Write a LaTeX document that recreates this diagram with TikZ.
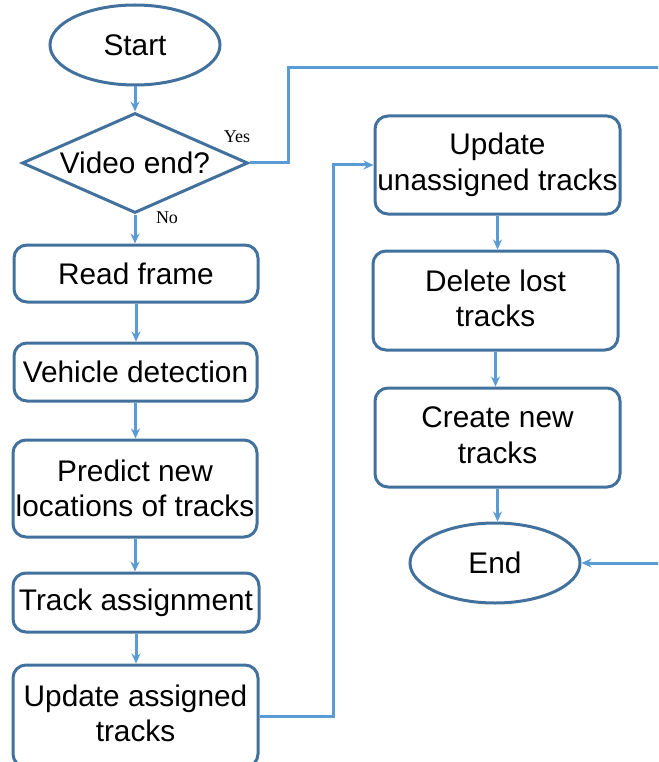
\documentclass[tikz,border=0pt]{standalone}
\usepackage{fontspec}
\setmainfont{Liberation Sans}
\newfontfamily\timesf{Liberation Serif}
\usetikzlibrary{shapes.geometric,arrows.meta}
\definecolor{boxc}{HTML}{41719C}
\definecolor{arrc}{HTML}{5B9BD5}
\begin{document}
\begin{tikzpicture}[x=1pt,y=-1pt,
  box/.style={draw=boxc,line width=3pt,rounded corners=13pt,align=center,inner sep=0pt,fill=white,font=\fontsize{29.8}{35.5}\selectfont},
  term/.style={draw=boxc,line width=3pt,ellipse,inner sep=0pt,minimum width=170pt,minimum height=80pt,fill=white,font=\fontsize{29.8}{35.5}\selectfont},
  dec/.style={draw=boxc,line width=3pt,diamond,aspect=2.26,inner sep=0pt,minimum width=226pt,minimum height=100pt,fill=white,font=\fontsize{29.8}{35.5}\selectfont},
  lbl/.style={font=\timesf\fontsize{18}{20}\selectfont,inner sep=0pt},
  wire/.style={draw=arrc,line width=3pt},
  conn/.style={wire,-{Stealth[length=10pt,width=9pt]}}]
\useasboundingbox (0,0) rectangle (658,762);
\clip (0,0) rectangle (658,762);

\node[term] (start) at (135,45) {Start};
\node[dec] (vend) at (135,163) {Video end?};
\node[box,minimum width=244pt,minimum height=57pt] (read) at (136,273.5) {Read frame};
\node[box,minimum width=243pt,minimum height=58pt] (veh) at (135.5,372) {Vehicle detection};
\node[box,minimum width=244pt,minimum height=97pt] (pred) at (135,488.5) {Predict new\\locations of tracks};
\node[box,minimum width=246pt,minimum height=59pt] (assign) at (136,602.5) {Track assignment};
\node[box,minimum width=245pt,minimum height=102pt] (upa) at (135.5,716) {Update assigned\\tracks\rule[-6pt]{0pt}{1pt}};

\node[box,minimum width=245pt,minimum height=98pt] (upu) at (497.5,165) {Update\\unassigned tracks};
\node[box,minimum width=245pt,minimum height=99pt] (del) at (495.5,300.5) {Delete lost\\tracks\rule[-5pt]{0pt}{1pt}};
\node[box,minimum width=245pt,minimum height=99pt] (create) at (497.5,437.5) {Create new\\tracks\rule[-5pt]{0pt}{1pt}};
\node[term] (end) at (495,563) {End};

\node[lbl] (yes) at (237,137) {Yes};
\node[lbl] (no) at (167,218) {No};

\coordinate (yesup) at (288,68);
\coordinate (farr) at (690,68);
\coordinate (midx) at (333,0);

\draw[conn] (start.south) -- (start.south |- vend.north);
\draw[conn] (vend.south) -- (vend.south |- read.north);
\draw[conn] (read.south) -- (read.south |- veh.north);
\draw[conn] (veh.south) -- (veh.south |- pred.north);
\draw[conn] (pred.south) -- (pred.south |- assign.north);
\draw[conn] (assign.south) -- (assign.south |- upa.north);

\draw[conn] (upu.south) -- (upu.south |- del.north);
\draw[conn] (del.south) -- (del.south |- create.north);
\draw[conn] (create.south) -- (create.south |- end.north);

\draw[conn] (upa.east) -- (upa.east -| midx) -- (midx |- upu.west) -- (upu.west);
\draw[conn] (vend.east) -- (vend.east -| yesup) -- (yesup) -- (farr) -- (farr |- end.east) -- (end.east);
\end{tikzpicture}
\end{document}
